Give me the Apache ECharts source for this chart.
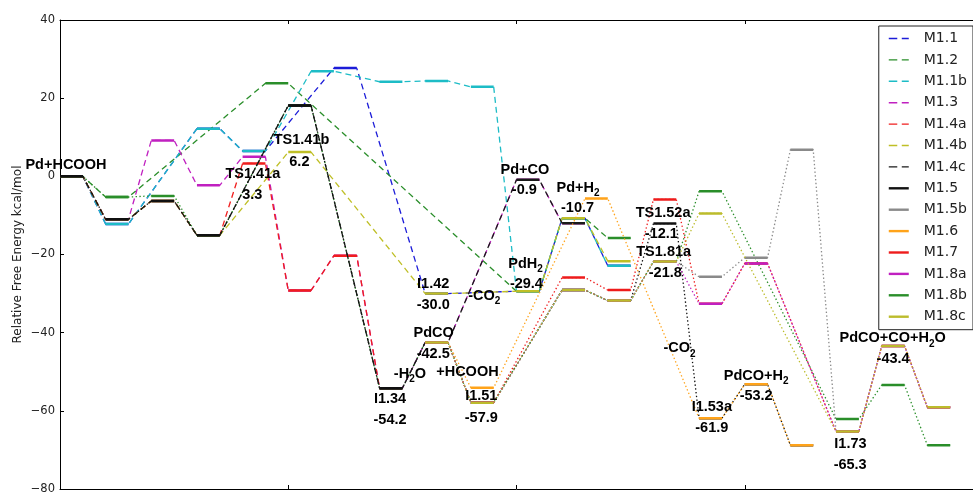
<!DOCTYPE html>
<html>
<head>
<meta charset="utf-8">
<title>Relative free energy profiles</title>
<script src="https://cdn.jsdelivr.net/npm/echarts@6/dist/echarts.min.js"></script>
<style>
  html, body { margin: 0; padding: 0; background: #ffffff; }
  #chart { width: 973px; height: 495px; }
</style>
</head>
<body>
<div id="chart"></div>
<script>
// ---------------------------------------------------------------
// Free-energy pathways. Each level sits on an integer reaction step;
// one step is 0.1 wide on the x axis. Energies in kcal/mol.
// ---------------------------------------------------------------
const m11Step  = [0, 2, 6, 8, 12, 16, 20, 22, 24];
const m11G     = [0, -12.2, 12.2, 6.5, 27.7, -30.0, -29.4, -10.7, -22.9];

const m12Step  = [0, 2, 9, 20, 22, 24];
const m12G     = [0, -5.3, 23.8, -29.4, -10.7, -15.8];

const m11bStep = [0, 2, 6, 8, 11, 14, 16, 18, 20, 22, 24];
const m11bG    = [0, -12.2, 12.2, 6.5, 26.9, 24.2, 24.4, 22.9, -29.4, -10.7, -22.9];

const m13Step  = [0, 2, 4, 6, 8, 10, 12, 14, 16, 20, 22];
const m13G     = [0, -11.0, 9.2, -2.3, 5.0, -29.2, -20.3, -54.2, -42.5, -0.9, -12.0];

const m14aStep = [0, 2, 4, 6, 8, 10, 12, 14];
const m14aG    = [0, -11.0, -6.3, -15.1, 3.3, -29.2, -20.3, -54.2];

const m14bStep = [0, 2, 4, 6, 10, 16, 20, 22, 24];
const m14bG    = [0, -11.0, -6.3, -15.1, 6.2, -30.0, -29.4, -10.7, -21.7];

const m14cStep = [0, 2, 4, 6, 10, 14, 16, 20, 22];
const m14cG    = [0, -11.0, -6.3, -15.1, 18.1, -54.2, -42.5, -0.9, -12.0];

const m15Step  = [0, 2, 4, 6, 10, 14, 16, 18, 22, 24, 26, 28, 30, 32];
const m15G     = [0, -11.0, -6.3, -15.1, 18.1, -54.2, -42.5, -57.9, -29.1, -31.8, -12.1, -61.9, -53.2, -68.8];

const m15bStep = [16, 18, 22, 24, 26, 28, 30, 32, 34, 36, 38];
const m15bG    = [-42.5, -57.9, -29.1, -31.8, -21.8, -25.7, -20.8, 6.8, -65.3, -43.4, -59.1];

const m16Step  = [16, 18, 23, 28, 30, 32];
const m16G     = [-42.5, -54.1, -5.7, -61.9, -53.2, -68.8];

const m17Step  = [16, 18, 22, 24, 26, 28, 30, 34, 36, 38];
const m17G     = [-42.5, -57.9, -25.9, -29.1, -5.9, -32.6, -22.3, -65.3, -43.4, -59.1];

const m18aStep = [16, 18, 22, 24, 26, 28, 30, 34, 36, 38];
const m18aG    = [-42.5, -57.9, -29.1, -31.8, -21.8, -32.6, -22.3, -65.3, -43.4, -59.1];

const m18bStep = [0, 2, 4, 6, 10, 14, 16, 18, 22, 24, 26, 28, 34, 36, 38];
const m18bG    = [0, -5.3, -5.0, -15.1, 18.1, -54.2, -42.5, -57.9, -29.1, -31.8, -21.8, -3.8, -62.1, -53.4, -68.8];

const m18cStep = [16, 18, 22, 24, 26, 28, 34, 36, 38];
const m18cG    = [-42.5, -57.9, -29.1, -31.8, -21.8, -9.5, -65.3, -43.4, -59.1];

// Legend order of the pathways
const pathwayNames = ['M1.1', 'M1.2', 'M1.1b', 'M1.3', 'M1.4a', 'M1.4b', 'M1.4c',
                      'M1.5', 'M1.5b', 'M1.6', 'M1.7', 'M1.8a', 'M1.8b', 'M1.8c'];

// Labelled states: name (underscore marks a subscript), step of the level, energy
const stateNames = ['Pd+HCOOH', 'TS1.41a', 'TS1.41b', 'I1.34', 'I1.42', 'PdCO', 'I1.51', 'Pd+CO',
                    'PdH_2', 'Pd+H_2', 'TS1.52a', 'TS1.81a', 'I1.53a', 'PdCO+H_2', 'I1.73', 'PdCO+CO+H_2O'];
const stateSteps = [0, 8, 10, 14, 16, 16, 18, 20, 20, 22, 26, 26, 28, 30, 34, 36];
const stateG     = [0, 3.3, 6.2, -54.2, -30.0, -42.5, -57.9, -0.9, -29.4, -10.7, -12.1, -21.8, -61.9, -53.2, -65.3, -43.4];

// Species lost / gained along a step
const stepNotes = ['-CO_2', '-H_2O', '+HCOOH', '-CO_2'];

// Y axis ticks
const yTicks = [-80, -60, -40, -20, 0, 20, 40];

// ---------------------------------------------------------------
// Drawing
// ---------------------------------------------------------------
const STEP = 0.1;

const pathways = {
  'M1.1':  [m11Step,  m11G],
  'M1.2':  [m12Step,  m12G],
  'M1.1b': [m11bStep, m11bG],
  'M1.3':  [m13Step,  m13G],
  'M1.4a': [m14aStep, m14aG],
  'M1.4b': [m14bStep, m14bG],
  'M1.4c': [m14cStep, m14cG],
  'M1.5':  [m15Step,  m15G],
  'M1.5b': [m15bStep, m15bG],
  'M1.6':  [m16Step,  m16G],
  'M1.7':  [m17Step,  m17G],
  'M1.8a': [m18aStep, m18aG],
  'M1.8b': [m18bStep, m18bG],
  'M1.8c': [m18cStep, m18cG]
};

const colors = {
  'M1.1': '#1c1cd8', 'M1.2': '#2a8e2a', 'M1.1b': '#1dbcc6', 'M1.3': '#c020c0',
  'M1.4a': '#f01e1e', 'M1.4b': '#bfbf26', 'M1.4c': '#1a1a1a', 'M1.5': '#111111',
  'M1.5b': '#8a8a8a', 'M1.6': '#ffa31a', 'M1.7': '#ee1c1c', 'M1.8a': '#c020c0',
  'M1.8b': '#2a8e2a', 'M1.8c': '#bcbc2c'
};
const dashedSet = new Set(['M1.1', 'M1.2', 'M1.1b', 'M1.3', 'M1.4a', 'M1.4b', 'M1.4c']);

// stacking order of the pathways on the canvas
const drawOrder = ['M1.1', 'M1.2', 'M1.1b', 'M1.3', 'M1.4a', 'M1.4b', 'M1.8b', 'M1.4c',
                   'M1.5', 'M1.5b', 'M1.6', 'M1.7', 'M1.8a', 'M1.8c'];

// legend swatches: a short dashed stroke or a thick solid stroke inside a 20x14 box
const ICON_DASHED = 'path://M0,0M20,14M0,6.3H8.5V7.7H0Z M13,6.3H20V7.7H13Z';
const ICON_SOLID  = 'path://M0,0M20,14M0,5.8H20V8.2H0Z';

// continuous path through both ends of every level
function pathPoints(steps, G) {
  const pts = [];
  steps.forEach((s, i) => { pts.push([s * STEP, G[i]], [(s + 1) * STEP, G[i]]); });
  return pts;
}
// separate horizontal bars, one per level
function levelPoints(steps, G) {
  const pts = [];
  steps.forEach((s, i) => { pts.push([s * STEP, G[i]], [(s + 1) * STEP, G[i]], [(s + 1) * STEP, '-']); });
  return pts;
}

const series = [];
drawOrder.forEach(name => {
  const [steps, G] = pathways[name];
  const c = colors[name];
  const connector = {
    type: 'line', name, data: pathPoints(steps, G), symbol: 'none', silent: true,
    lineStyle: { color: c, width: 1.3, type: dashedSet.has(name) ? [6, 4] : [1.4, 2.4] },
    itemStyle: { color: c }, clip: false
  };
  const levels = {
    type: 'line', name, data: levelPoints(steps, G), symbol: 'none', silent: true,
    connectNulls: false,
    lineStyle: { color: c, width: 2.5, type: 'solid', cap: 'butt' },
    itemStyle: { color: c }, clip: false
  };
  if (dashedSet.has(name)) series.push(connector, levels);
  else series.push(levels, connector);
});

// text placement around each labelled level: [dxName, dyName, dxValue, dyValue] in px
const stateLayout = {
  'Pd+HCOOH': [-5.5, -11, 0, null],
  'TS1.41a': [-1.2, 11, -1.7, 32],
  'TS1.41b': [1.8, -12, -0.3, 9.5],
  'I1.34': [-0.9, 11.2, -0.9, 32],
  'I1.42': [-3.4, -9.8, -3.4, 11.5],
  'PdCO': [-2.9, -9.2, -3.4, 11.1],
  'I1.51': [-1, -6.7, -1, 15],
  'Pd+CO': [-3, -9.9, -3.6, 10.1],
  'PdH_2': [-2.3, -27.4, -1.5, -7.1],
  'Pd+H_2': [4.5, -30.3, 4, -10.3],
  'TS1.52a': [-1.8, -10.8, -3.5, 10.2],
  'TS1.81a': [-1.2, -9.1, 0.4, 11.9],
  'I1.53a': [1.3, -10.8, 1.3, 10.2],
  'PdCO+H_2': [0, -8.1, 0, 11.9],
  'I1.73': [3, 12.4, 2.7, 33.4],
  'PdCO+CO+H_2O': [-0.4, -7.7, 0, 13.3]
};
// where the step notes sit, in axis units [x, energy]
const noteAnchors = [[1.859, -30.6], [1.533, -50.6], [1.785, -50.1], [2.714, -44.0]];

const sub = t => t.replace(/_(\d)/g, '{s|$1}');
const textItems = [];
stateNames.forEach((n, i) => {
  const lay = stateLayout[n];
  const x = (stateSteps[i] + 0.5) * STEP;
  textItems.push({ x, y: stateG[i], dx: lay[0], dy: lay[1], text: sub(n) });
  if (lay[3] !== null) textItems.push({ x, y: stateG[i], dx: lay[2], dy: lay[3], text: stateG[i].toFixed(1) });
});
stepNotes.forEach((n, i) => {
  textItems.push({ x: noteAnchors[i][0], y: noteAnchors[i][1], dx: 0, dy: 0, text: sub(n) });
});

const LABEL_FONT = '"Liberation Sans", Arial, sans-serif';
series.push({
  type: 'custom', name: 'labels', coordinateSystem: 'cartesian2d', silent: true, clip: false, z: 20,
  data: textItems.map(t => [t.x, t.y]),
  renderItem: (params, api) => {
    const t = textItems[params.dataIndex];
    const c = api.coord([t.x, t.y]);
    return {
      type: 'text', x: c[0] + t.dx, y: c[1] + t.dy,
      style: {
        text: t.text, fill: '#000', fontFamily: LABEL_FONT, fontWeight: 'bold', fontSize: 14.5,
        align: 'center', verticalAlign: 'middle', lineHeight: 21,
        rich: { s: { fontSize: 10, fontWeight: 'bold', fontFamily: LABEL_FONT, fill: '#000', verticalAlign: 'bottom' } }
      }
    };
  }
});

const axisCommon = {
  type: 'value', min: 0, max: 4, interval: 1,
  axisLine: { show: true, onZero: false, lineStyle: { color: '#000', width: 1 } },
  axisTick: { show: true, inside: true, length: 4, lineStyle: { color: '#000' } },
  axisLabel: { show: false }, splitLine: { show: false }
};

const chart = echarts.init(document.getElementById('chart'), null, { renderer: 'canvas' });
chart.setOption({
  animation: false,
  backgroundColor: '#ffffff',
  grid: { left: 60, right: -8, top: 20, bottom: 1, containLabel: false },
  xAxis: [
    Object.assign({ position: 'bottom' }, axisCommon),
    Object.assign({ position: 'top' }, axisCommon)
  ],
  yAxis: {
    type: 'value', min: yTicks[0], max: yTicks[yTicks.length - 1], interval: 20,
    axisLine: { show: true, onZero: false, lineStyle: { color: '#000', width: 1 } },
    axisTick: { show: true, inside: true, length: 4, lineStyle: { color: '#000' } },
    axisLabel: {
      fontSize: 11.5, fontFamily: '"DejaVu Sans", sans-serif', color: '#222', margin: 5,
      formatter: v => (v < 0 ? '\u2212' + Math.abs(v) : String(v))
    },
    splitLine: { show: false },
    name: 'Relative Free Energy kcal/mol', nameLocation: 'middle', nameGap: 36, nameRotate: 90,
    nameMoveOverlap: false,
    nameTextStyle: { fontSize: 12, fontFamily: '"DejaVu Sans", sans-serif', color: '#222' }
  },
  legend: {
    orient: 'vertical', right: 0, top: 26,
    data: pathwayNames.map(n => ({ name: n, icon: dashedSet.has(n) ? ICON_DASHED : ICON_SOLID })),
    itemWidth: 20, itemHeight: 14, itemGap: 7.4,
    padding: [5.5, 6, 6, 10],
    backgroundColor: '#ffffff', borderColor: '#222', borderWidth: 1, borderRadius: 0,
    textStyle: { fontSize: 14, fontFamily: '"DejaVu Sans", sans-serif', color: '#222', padding: [0, 0, 0, 10] },
    selectedMode: false
  },
  series
});
</script>
</body>
</html>
